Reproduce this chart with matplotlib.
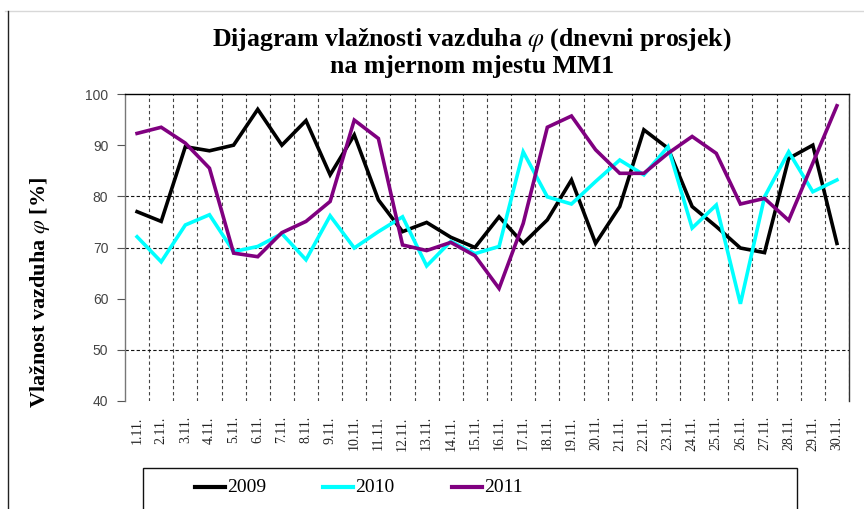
import matplotlib
matplotlib.use("Agg")
import matplotlib.pyplot as plt
from matplotlib.lines import Line2D
from matplotlib.patches import Rectangle

plt.rcParams['mathtext.fontset'] = 'stix'

days = [f"{d}.11." for d in range(1, 31)]
y2009 = [77.0, 75.1, 89.7, 88.9, 90.0, 97.0, 90.0, 94.8, 84.2, 92.0,
         79.3, 73.1, 74.9, 72.0, 70.0, 76.0, 70.8, 75.4, 83.2, 70.8,
         78.0, 93.0, 89.4, 78.0, 74.1, 69.9, 69.0, 87.4, 90.0, 70.8]
y2010 = [72.1, 67.2, 74.4, 76.4, 69.2, 70.2, 72.7, 67.6, 76.2, 69.9,
         73.1, 76.0, 66.4, 71.2, 68.8, 70.2, 88.7, 79.9, 78.5, 82.9,
         87.1, 84.2, 89.7, 73.8, 78.3, 59.0, 79.9, 88.7, 80.9, 83.2]
y2011 = [92.3, 93.5, 90.4, 85.5, 68.9, 68.2, 72.9, 75.1, 79.0, 94.9,
         91.3, 70.5, 69.4, 71.0, 68.4, 62.0, 74.7, 93.5, 95.7, 89.1,
         84.5, 84.5, 88.4, 91.7, 88.4, 78.5, 79.6, 75.3, 86.5, 97.7]
series = [("2009", y2009, "#000000"), ("2010", y2010, "#00FFFF"), ("2011", y2011, "#800080")]
yticks = [40, 50, 60, 70, 80, 90, 100]
ygrid = [50, 70, 80]

W, H = 864, 509
fig = plt.figure(figsize=(W / 100, H / 100), dpi=100)
ax = fig.add_axes([125 / W, 1 - 401 / H, (849 - 125) / W, (401 - 94) / H])

x = list(range(len(days)))
for name, vals, col in series:
    ax.plot(x, vals, color=col, lw=2.6, solid_joinstyle='miter', label=name, zorder=3)

ax.set_xlim(-0.5, len(days) - 0.5)
ax.set_ylim(40, 100)
ax.set_yticks(yticks)
ax.set_xticks(x)
ax.set_xticklabels(days, rotation=90, fontfamily='Liberation Serif', fontsize=10, color='#222')
ax.tick_params(axis='x', length=0, pad=11)
ax.tick_params(axis='y', length=6, width=0.8, color='#555', pad=6, labelsize=10, labelcolor='#444')
for lab in ax.get_yticklabels():
    lab.set_fontfamily('Liberation Sans')

for k in range(len(days)):
    ax.axvline(k + 0.5, color='#444', lw=0.8, ls=(0, (3, 2.5)), zorder=1)
for g in ygrid:
    ax.axhline(g, color='#111', lw=0.8, ls=(0, (3, 2)), zorder=1)

ax.spines['bottom'].set_visible(False)
ax.spines['left'].set_color('#777')
ax.spines['left'].set_linewidth(1.0)
ax.spines['top'].set_color('#000')
ax.spines['top'].set_linewidth(1.0)
ax.spines['right'].set_color('#333')
ax.spines['right'].set_linewidth(1.0)

fig.text(472 / W, 1 - 40 / H, r"Dijagram vlažnosti vazduha $\varphi$ (dnevni prosjek)",
         ha='center', va='center', fontfamily='Liberation Serif', fontweight='bold', fontsize=18.5)
fig.text(472 / W, 1 - 67 / H, "na mjernom mjestu MM1",
         ha='center', va='center', fontfamily='Liberation Serif', fontweight='bold', fontsize=18.5)
fig.text(40 / W, 1 - 292 / H, r"Vlažnost vazduha $\varphi$ [%]", rotation=90,
         ha='center', va='center', fontfamily='Liberation Serif', fontweight='bold', fontsize=16)

# outer chart frame
fig.add_artist(Line2D([5 / W, 1], [1 - 11 / H, 1 - 11 / H], transform=fig.transFigure, color='#d8d8d8', lw=1))
fig.add_artist(Line2D([8 / W, 8 / W], [1 - 11 / H, 0], transform=fig.transFigure, color='#222', lw=1))

# legend box (manual)
fig.add_artist(Rectangle((143 / W, -0.05), (797 - 143) / W, 0.05 + (509 - 468) / H,
                         transform=fig.transFigure, fill=False, ec='#111', lw=1))
lx = [195, 323, 452]
ly = 1 - 487 / H
for (name, vals, col), px in zip(series, lx):
    fig.add_artist(Line2D([px / W, (px + 30) / W], [ly, ly], transform=fig.transFigure, color=col, lw=3))
    fig.text((px + 32) / W, ly, name, ha='left', va='center', fontfamily='Liberation Serif', fontsize=14)

fig.savefig("out.png", dpi=100)
